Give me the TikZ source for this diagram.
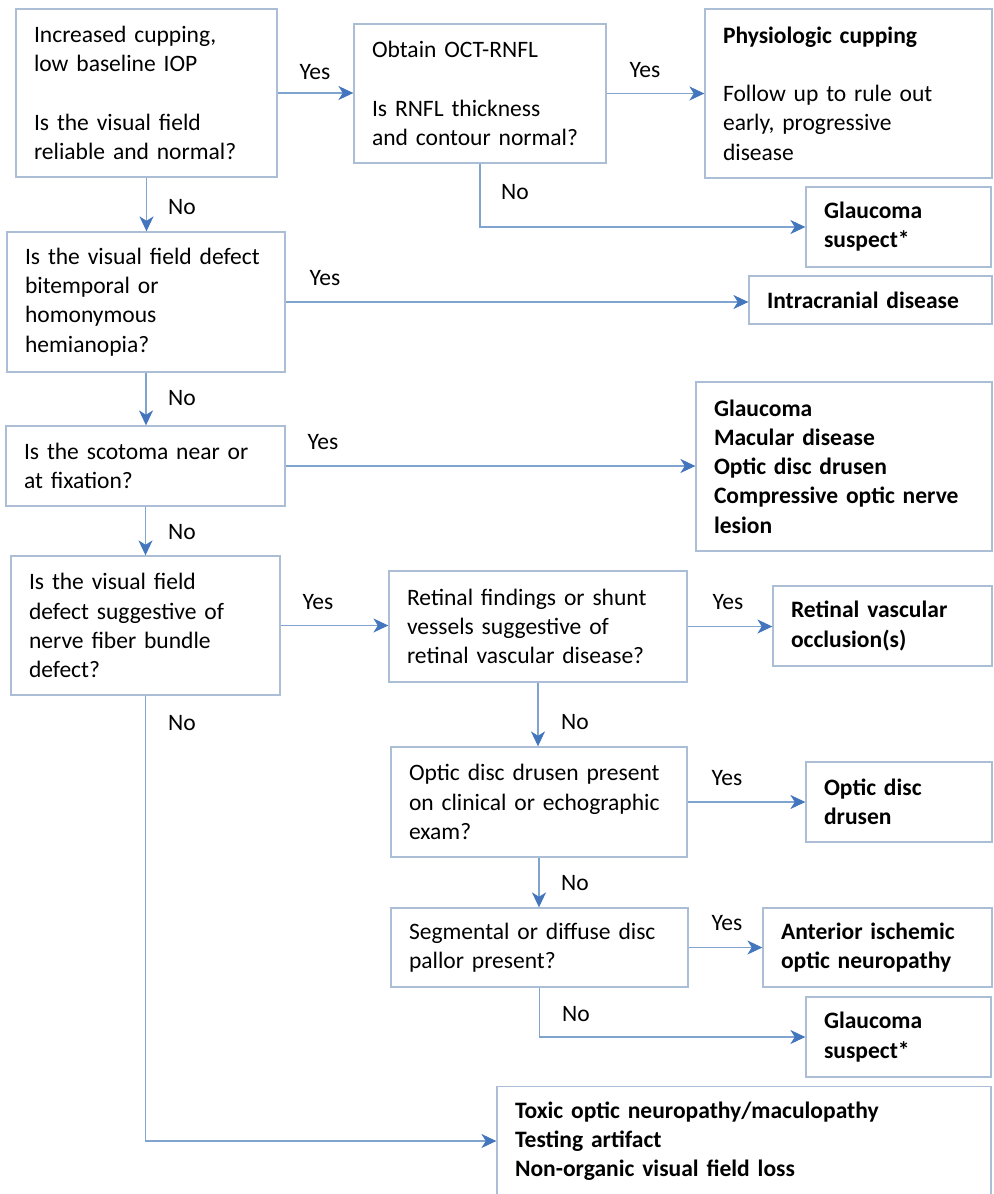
\documentclass[tikz,border=0pt]{standalone}
\usepackage{fontspec}
\setmainfont{Carlito}
\usetikzlibrary{arrows.meta}

\definecolor{boxline}{RGB}{172,190,214}
\definecolor{linkline}{RGB}{128,164,208}
\definecolor{tipblue}{RGB}{68,118,190}
\hyphenpenalty=10000

\begin{document}
\begin{tikzpicture}[x=.02cm, y=-.02cm, font=\fontsize{13.4}{16.6}\selectfont,
    >={Stealth[length=8.5pt,width=8pt,inset=2.5pt,color=tipblue]},
    box/.style={draw=boxline, line width=.8pt, align=left, inner xsep=.36cm, inner ysep=0pt},
    result/.style={box, font=\fontsize{13.4}{16.6}\selectfont\bfseries},
    link/.style={->, draw=linkline, line width=.6pt},
    lab/.style={inner sep=0pt}]
    \useasboundingbox (0,0) rectangle (994,1194);
    % questions, left column
    \node[box, text width=4.5cm, minimum height=3.36cm] (cup) at (146.5,93)
      {Increased cupping,\\low baseline IOP\\~\\Is the visual field\\reliable and normal?};
    \node[box, text width=4.84cm, minimum height=2.8cm] (ask2) at (146,302)
      {Is the visual field defect\\bitemporal or\\homonymous\\hemianopia?};
    \node[box, text width=4.86cm, minimum height=1.6cm] (ask3) at (145.5,466)
      {Is the scotoma near or\\at fixation?};
    \node[box, text width=4.66cm, minimum height=2.78cm] (ask4) at (145.5,625.5)
      {Is the visual field\\defect suggestive of\\nerve fiber bundle\\defect?};
    % questions, middle column
    \node[box, text width=4.32cm, minimum height=2.78cm] (oct) at (480,93.5)
      {Obtain OCT-RNFL\\~\\Is RNFL thickness\\and contour normal?};
    \node[box, text width=5.24cm, minimum height=2.22cm] (retina) at (538,626.5)
      {Retinal findings or shunt\\vessels suggestive of\\retinal vascular disease?};
    \node[box, text width=5.2cm, minimum height=2.2cm] (drus) at (539,802)
      {Optic disc drusen present\\on clinical or echographic\\exam?};
    \node[box, text width=5.22cm, minimum height=1.58cm] (pallor) at (539.5,947.5)
      {Segmental or diffuse disc\\pallor present?};
    % outcomes
    \node[box, text width=5.02cm, minimum height=3.38cm] (phys) at (848.5,93.5)
      {\textbf{Physiologic cupping}\\~\\Follow up to rule out\\early, progressive\\disease};
    \node[result, text width=2.98cm, minimum height=1.6cm] (susp1) at (898.5,227)
      {Glaucoma\\suspect*};
    \node[result, text width=4.14cm, minimum height=.96cm] (intra) at (870.5,300)
      {Intracranial disease};
    \node[result, text width=5.2cm, minimum height=3.38cm] (diffs) at (844,466.5)
      {Glaucoma\\Macular disease\\Optic disc drusen\\Compressive optic nerve\\lesion};
    \node[result, text width=3.66cm, minimum height=1.6cm] (occl) at (882.5,626)
      {Retinal vascular\\occlusion(s)};
    \node[result, text width=3cm, minimum height=1.6cm] (mdrus) at (899,802)
      {Optic disc\\drusen};
    \node[result, text width=3.86cm, minimum height=1.58cm] (aion) at (877.5,947.5)
      {Anterior ischemic\\optic neuropathy};
    \node[result, text width=2.98cm, minimum height=1.6cm] (susp2) at (898.5,1037)
      {Glaucoma\\suspect*};
    \node[result, text width=9.16cm, minimum height=2.18cm] (other) at (744,1141)
      {Toxic optic neuropathy/maculopathy\\Testing artifact\\Non-organic visual field loss};
    % connectors
    \draw[link] (cup.east) -- (cup.east -| oct.west);
    \draw[link] (oct.east) -- (oct.east -| phys.west);
    \draw[link] (oct.south) |- (susp1.west);
    \draw[link] (cup.south) -- (cup.south |- ask2.north);
    \draw[link] (ask2.east) -- (ask2.east -| intra.west);
    \draw[link] (ask2.south) -- (ask2.south |- ask3.north);
    \draw[link] (ask3.east) -- (ask3.east -| diffs.west);
    \draw[link] (ask3.south) -- (ask3.south |- ask4.north);
    \draw[link] (ask4.east) -- (ask4.east -| retina.west);
    \draw[link] (retina.east) -- (retina.east -| occl.west);
    \draw[link] (retina.south) -- (retina.south |- drus.north);
    \draw[link] (drus.east) -- (drus.east -| mdrus.west);
    \draw[link] (drus.south) -- (drus.south |- pallor.north);
    \draw[link] (pallor.east) -- (pallor.east -| aion.west);
    \draw[link] (pallor.south) |- (susp2.west);
    \draw[link] (ask4.south) |- (other.west);
    % yes / no labels
    \node[lab] (yes1) at (315,72) {Yes};
    \node[lab] (yes2) at (645,70) {Yes};
    \node[lab] (no1) at (515,192) {No};
    \node[lab] (no2) at (182,207) {No};
    \node[lab] (yes3) at (325,278) {Yes};
    \node[lab] (no3) at (182,398) {No};
    \node[lab] (yes4) at (323,442) {Yes};
    \node[lab] (no4) at (182,532) {No};
    \node[lab] (yes5) at (318,602) {Yes};
    \node[lab] (no5) at (182,723) {No};
    \node[lab] (yes6) at (728,602) {Yes};
    \node[lab] (no6) at (575,722) {No};
    \node[lab] (yes7) at (727,778) {Yes};
    \node[lab] (no7) at (575,883) {No};
    \node[lab] (yes8) at (727,923) {Yes};
    \node[lab] (no8) at (576,1014) {No};
\end{tikzpicture}
\end{document}
